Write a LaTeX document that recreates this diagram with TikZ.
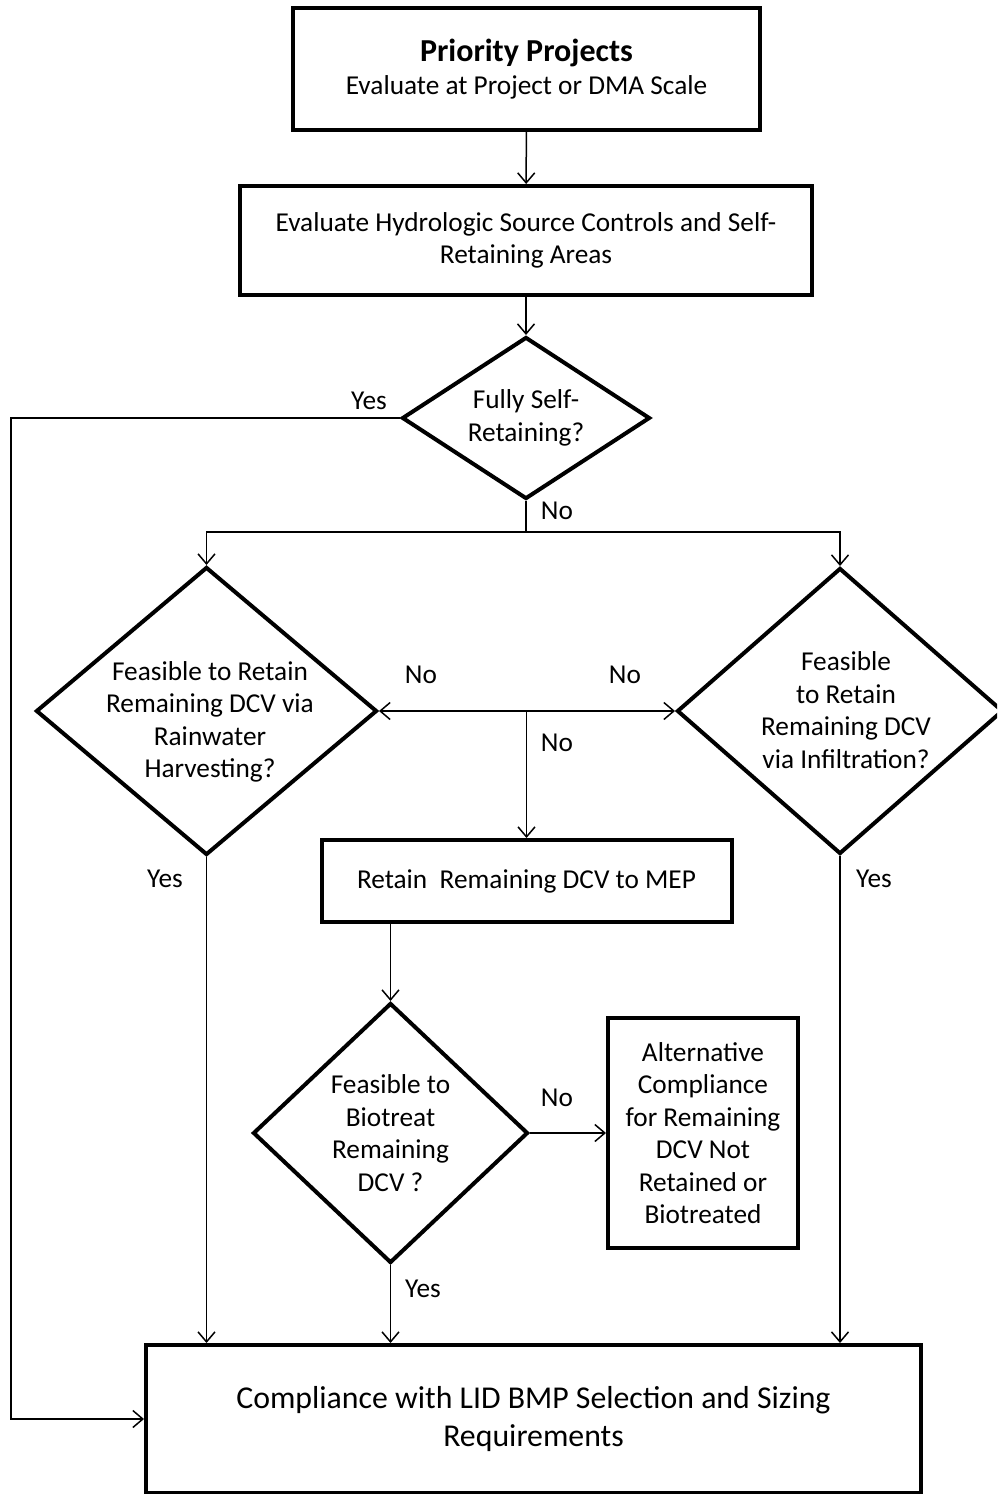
\documentclass[tikz,border=0pt]{standalone}
\usepackage{fontspec}
\setmainfont{Carlito}
\usetikzlibrary{shapes.geometric,arrows.meta}

\begin{document}
\begin{tikzpicture}[x=1pt, y=-1pt, >={Straight Barb[length=10pt,width=17pt]},
  box/.style={draw, line width=4pt, align=center, inner sep=0pt, font=\fontsize{27.3}{32.5}\selectfont},
  decision/.style={draw, diamond, line width=4pt, inner sep=0pt},
  txt/.style={align=center, font=\fontsize{27.3}{32.5}\selectfont},
  lbl/.style={font=\fontsize{27.3}{32.5}\selectfont},
  flow/.style={->, line width=1.5pt}]
  \useasboundingbox (0,0) rectangle (997,1494);
  \clip (0,0) rectangle (997,1494);
  % Top boxes
  \node[box, minimum width=467pt, minimum height=122pt] (prio) at (526.5,69)
    {{\fontsize{32}{37}\selectfont\bfseries Priority Projects}\\Evaluate at Project or DMA Scale};
  \node[box, minimum width=572pt, minimum height=109pt] (hsc) at (526,240.5)
    {Evaluate Hydrologic Source Controls and Self-\\Retaining Areas};
  % Fully self-retaining decision
  \node[decision, minimum width=248pt, minimum height=162pt] (self) at (526,418) {};
  \node[txt] (selftxt) at (self) {Fully Self-\\Retaining?};
  % Harvesting and infiltration decisions
  \node[decision, minimum width=341pt, minimum height=288pt] (harvest) at (206.5,711) {};
  \node[txt] (harvesttxt) at (210,722) {Feasible to Retain\\Remaining DCV via\\Rainwater\\Harvesting?};
  \node[decision, minimum width=326pt, minimum height=286pt] (infil) at (840,711) {};
  \node[txt] (infiltxt) at (846,710) {Feasible\\to Retain\\Remaining DCV\\via Infiltration?};
  % Retain to MEP
  \node[box, minimum width=410pt, minimum height=82pt] (mep) at (526.5,881)
    {Retain\ \ Remaining DCV to MEP};
  % Biotreatment decision
  \node[decision, minimum width=275pt, minimum height=260pt] (biotreat) at (390.5,1133) {};
  \node[txt] (biotreattxt) at (biotreat) {Feasible to\\Biotreat\\Remaining\\DCV ?};
  \node[box, minimum width=190pt, minimum height=230pt] (alt) at (703,1133)
    {Alternative\\Compliance\\for Remaining\\DCV Not\\Retained or\\Biotreated};
  % Final compliance box
  \node[box, minimum width=775pt, minimum height=148pt, font=\fontsize{31.8}{38}\selectfont] (comply) at (533.5,1419)
    {Compliance with LID BMP Selection and Sizing\\Requirements};
  % Helper points
  \coordinate (yesturn) at (11,418);
  \coordinate (split) at (526,532);
  \coordinate (mid) at (mep.north |- harvest.east);
  % Connectors
  \draw[flow] (prio) -- (hsc);
  \draw[flow] (hsc) -- (self);
  \draw[flow] (self.west) -- (yesturn) |- (comply.west);
  \draw[line width=1.5pt] (self.south) -- (split);
  \draw[flow] (split) -| (harvest.north);
  \draw[flow] (split) -| (infil.north);
  \draw[flow] (mid) -- (harvest.east);
  \draw[flow] (mid) -- (infil.west);
  \draw[flow] (mid) -- (mep.north);
  \draw[flow] (mep.south -| biotreat.north) -- (biotreat.north);
  \draw[flow] (biotreat.east) -- (alt.west);
  \draw[flow] (biotreat.south) -- (biotreat.south |- comply.north);
  \draw[flow] (harvest.south) -- (harvest.south |- comply.north);
  \draw[flow] (infil.south) -- (infil.south |- comply.north);
  % Yes / No labels
  \node[lbl] (yes1) at (369,401) {Yes};
  \node[lbl] (no1) at (557,511) {No};
  \node[lbl] (no2) at (421,675) {No};
  \node[lbl] (no3) at (625,675) {No};
  \node[lbl] (no4) at (557,743) {No};
  \node[lbl] (yes2) at (165,879) {Yes};
  \node[lbl] (yes3) at (874,879) {Yes};
  \node[lbl] (no5) at (557,1098) {No};
  \node[lbl] (yes4) at (423,1289) {Yes};
\end{tikzpicture}
\end{document}
